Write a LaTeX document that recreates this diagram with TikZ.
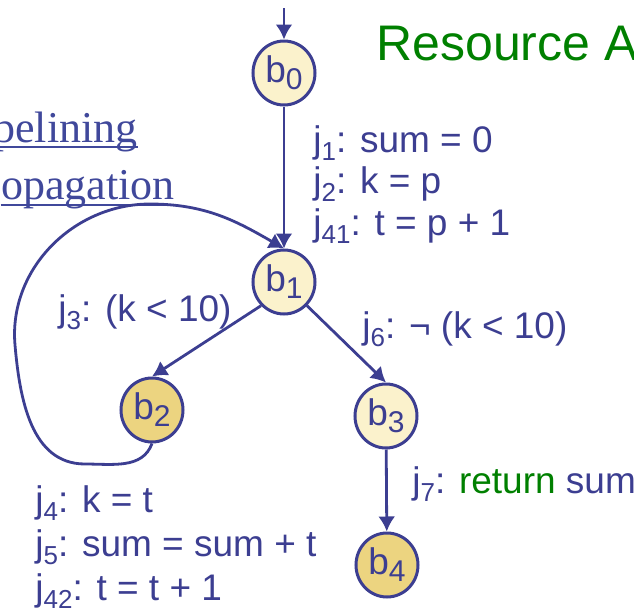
\documentclass[tikz,border=0pt]{standalone}
\usepackage{fontspec}
\setmainfont{Liberation Sans}
\newfontfamily\titrefont{Liberation Serif}
\usetikzlibrary{arrows.meta,shapes.geometric}
\definecolor{bleu}{RGB}{60,62,145}
\definecolor{bleuserif}{RGB}{64,72,155}
\definecolor{vert}{RGB}{0,128,0}
\definecolor{jauneclair}{RGB}{251,242,204}
\definecolor{jaune}{RGB}{236,212,128}
\newcommand\jsub[1]{\raisebox{-4pt}{\fontsize{13}{13}\selectfont #1}}
\newcommand\bsub[1]{\raisebox{-3.5pt}{\fontsize{15}{15}\selectfont #1}}

\begin{document}
\begin{tikzpicture}[x=0.5pt, y=-0.5pt,
    bloc/.style={ellipse, draw=bleu, line width=1.5pt, minimum width=31pt, minimum height=32pt,
        inner sep=0pt, text=bleu, font=\fontsize{18.5}{20}\selectfont},
    fleche/.style={draw=bleu, line width=1.4pt, -{Latex[length=7.5pt,width=8.5pt]}},
    etiq/.style={text=bleu, inner sep=0pt, align=left, anchor=base west},
    souligne/.style={bleuserif, line width=1.2pt}]
    \useasboundingbox (0,0) rectangle (634,612);
    \clip (0,0) rectangle (634,612);

    % Titres
    \node[text=vert, inner sep=0pt, anchor=base west, font=\fontsize{25}{30}\selectfont] (titre) at (376,60) {Resource A};
    \node[text=bleuserif, inner sep=0pt, anchor=base east, font=\titrefont\fontsize{22}{26}\selectfont] (pipe) at (138,142) {pelining};
    \node[text=bleuserif, inner sep=0pt, anchor=base east, font=\titrefont\fontsize{22}{26}\selectfont] (prop) at (175,199) {opagation};
    \draw[souligne] ([yshift=-2.5pt]pipe.base west) -- ([yshift=-2.5pt]pipe.base east);
    \draw[souligne] ([yshift=-3pt]prop.base west) -- ([yshift=-3pt]prop.base east);

    % Blocs
    \foreach \n/\x/\y/\c in {0/284/73/jauneclair, 1/284/282/jauneclair, 2/152/410/jaune,
                            3/386/416/jauneclair, 4/387/565/jaune} {
        \node[bloc, fill=\c] (b\n) at (\x,\y) {b\bsub{\n}};
    }

    % Arcs
    \coordinate (entree) at (284,8);
    \draw[fleche] (entree) -- (b0);
    \draw[fleche] (b0) -- (b1);
    \draw[fleche] (b1.south west) -- (b2.north);
    \draw[fleche] (b1.south east) -- (b3.north);
    \draw[fleche] (b3) -- (b4);
    \draw[fleche] (b2.south) to[out=-110, in=0] (85,464) to[out=180, in=-85] (15,345)
        to[out=95, in=180] (150,204) to[out=0, in=150] (b1.north);

    % Etiquettes (ancre sur la derniere ligne)
    \node[etiq, font=\fontsize{18.5}{20.75}\selectfont] (j1) at (313,235)
        {j\jsub{1}: sum = 0\\j\jsub{2}: k = p\\j\jsub{41}: t = p + 1};
    \node[etiq, font=\fontsize{18.5}{20.75}\selectfont] (j3) at (58,321) {j\jsub{3}: (k < 10)};
    \node[etiq, font=\fontsize{18.5}{20.75}\selectfont] (j6) at (362,338) {j\jsub{6}: ¬ (k < 10)};
    \node[etiq, font=\fontsize{18.5}{20.75}\selectfont] (j7) at (412,493) {j\jsub{7}: \textcolor{vert}{return} sum};
    \node[etiq, font=\fontsize{18.5}{22}\selectfont] (j4) at (35,600)
        {j\jsub{4}: k = t\\j\jsub{5}: sum = sum + t\\j\jsub{42}: t = t + 1};
\end{tikzpicture}
\end{document}
